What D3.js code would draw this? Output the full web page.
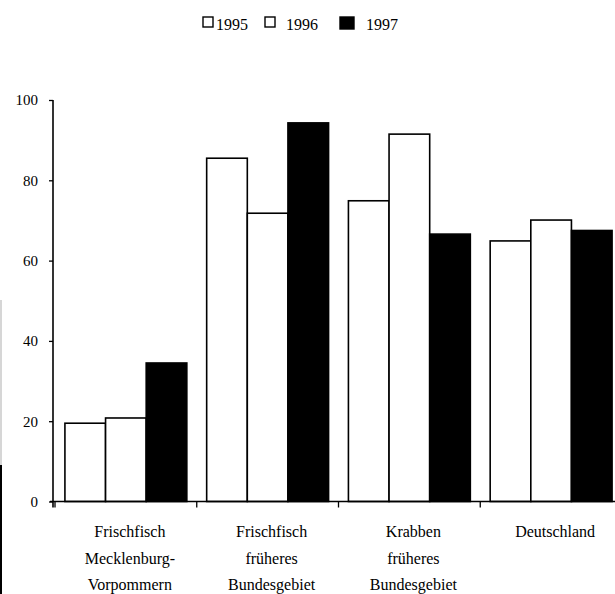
<!DOCTYPE html>
<html>
<head>
<meta charset="utf-8">
<script src="https://cdn.jsdelivr.net/npm/d3@7"></script>
<style>
  html, body { margin: 0; padding: 0; background: #fff; }
  svg { display: block; }
  svg text { font-family: "Liberation Serif", "DejaVu Serif", serif !important; fill: #000; }
</style>
</head>
<body>
<svg id="chart" width="615" height="594"></svg>
<script>
const categories = [
  ["Frischfisch", "Mecklenburg-", "Vorpommern"],
  ["Frischfisch", "früheres", "Bundesgebiet"],
  ["Krabben", "früheres", "Bundesgebiet"],
  ["Deutschland"]
];
const seriesNames = ["1995", "1996", "1997"];
const values1995 = [19.5, 85.5, 74.9, 64.9];
const values1996 = [20.8, 71.8, 91.5, 70.1];
const values1997 = [34.5, 94.3, 66.6, 67.5];
const yTicks = [0, 20, 40, 60, 80, 100];

const seriesValues = [values1995, values1996, values1997];
const fills = ["#fff", "#fff", "#000"];
const FONT = '"Liberation Serif", "DejaVu Serif", serif';

const svg = d3.select("#chart");

const x0 = d3.scaleBand()
  .domain(d3.range(categories.length))
  .range([55, 622])
  .paddingInner(0.14)
  .paddingOuter(0.07);

const x1 = d3.scaleBand()
  .domain(seriesNames)
  .range([0, x0.bandwidth()])
  .padding(0);

const y = d3.scaleLinear().domain([0, 100]).range([501.5, 100]);

// scan artifact at left edge
svg.append("line").attr("x1", 1).attr("x2", 1).attr("y1", 300).attr("y2", 465)
  .attr("stroke", "#c8c8c8").attr("stroke-width", 1.5);
svg.append("line").attr("x1", 1).attr("x2", 1).attr("y1", 465).attr("y2", 594)
  .attr("stroke", "#000").attr("stroke-width", 2);

// bars
const groups = svg.append("g").selectAll("g")
  .data(categories.map((c, i) => i))
  .join("g")
  .attr("transform", i => `translate(${x0(i)},0)`);

groups.selectAll("rect")
  .data(i => seriesNames.map((s, k) => ({s, k, v: seriesValues[k][i]})))
  .join("rect")
  .attr("x", d => x1(d.s))
  .attr("width", x1.bandwidth())
  .attr("y", d => y(d.v))
  .attr("height", d => y(0) - y(d.v))
  .attr("fill", d => fills[d.k])
  .attr("stroke", "#000")
  .attr("stroke-width", 1.6);

// y axis
const yAxis = d3.axisLeft(y).tickValues(yTicks).tickSize(4).tickPadding(11)
  .tickFormat(d3.format("d"));
const yg = svg.append("g").attr("transform", "translate(53,0)").call(yAxis)
  .attr("font-family", FONT);
yg.select(".domain").attr("stroke", "#000").attr("stroke-width", 1.6)
  .attr("d", `M0,${y(100)}V${y(0) + 6}`);
yg.selectAll(".tick line").attr("stroke", "#000").attr("stroke-width", 1.3);
yg.selectAll(".tick text")
  .attr("font-family", FONT)
  .style("font-size", "15px")
  .attr("fill", "#000");

// x axis
const tickPositions = d3.range(categories.length).map(i => x0(i) - x0.step() * x0.paddingInner() / 2);
const xg = svg.append("g");
xg.append("line").attr("x1", 50).attr("x2", 615)
  .attr("y1", y(0)).attr("y2", y(0))
  .attr("stroke", "#000").attr("stroke-width", 1.6);
xg.selectAll("line.tk").data(tickPositions).join("line").attr("class", "tk")
  .attr("x1", d => d).attr("x2", d => d)
  .attr("y1", y(0)).attr("y2", y(0) + 6)
  .attr("stroke", "#000").attr("stroke-width", 1.3);

// category labels
const labels = svg.append("g").selectAll("text")
  .data(categories.map((c, i) => ({c, i})))
  .join("text")
  .attr("text-anchor", "middle")
  .attr("font-family", FONT)
  .style("font-size", "16px")
  .attr("x", d => x0(d.i) + x0.bandwidth() / 2 + 4)
  .attr("y", 537);
labels.selectAll("tspan")
  .data(d => d.c.map((line, j) => ({line, j, x: x0(d.i) + x0.bandwidth() / 2 + 4})))
  .join("tspan")
  .attr("x", d => d.x)
  .attr("dy", d => d.j === 0 ? 0 : 26.5)
  .text(d => d.line);

// legend
const legendItems = [
  {name: seriesNames[0], bx: 203, by: 17, bw: 10, bh: 10, tx: 216},
  {name: seriesNames[1], bx: 265, by: 17, bw: 10, bh: 10, tx: 286},
  {name: seriesNames[2], bx: 340, by: 17, bw: 14, bh: 12, tx: 366}
];
const lg = svg.append("g");
lg.selectAll("rect").data(legendItems).join("rect")
  .attr("x", d => d.bx).attr("y", d => d.by)
  .attr("width", d => d.bw).attr("height", d => d.bh)
  .attr("fill", (d, k) => fills[k]).attr("stroke", "#000").attr("stroke-width", 1.4);
lg.selectAll("text").data(legendItems).join("text")
  .attr("x", d => d.tx).attr("y", 29.5)
  .attr("font-family", FONT)
  .style("font-size", "16px")
  .text(d => d.name);
</script>
</body>
</html>
